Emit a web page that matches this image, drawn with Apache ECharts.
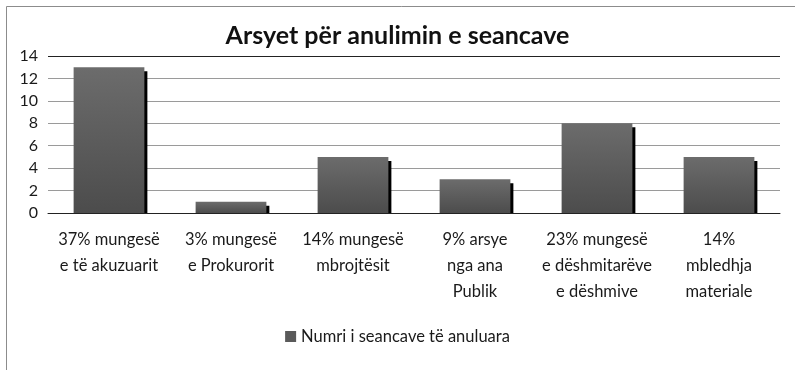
<!DOCTYPE html>
<html>
<head>
<meta charset="utf-8">
<script src="https://cdn.jsdelivr.net/npm/echarts@6/dist/echarts.min.js"></script>
<style>
  html, body { margin: 0; padding: 0; background: #fff; }
  #chart { width: 795px; height: 370px; }
</style>
</head>
<body>
<div id="chart"></div>
<script>
// Reasons for cancelled hearings
const titleText = 'Arsyet për anulimin e seancave';
const seriesName = 'Numri i seancave të anuluara';
const categories = [
  '37% mungesë\ne të akuzuarit',
  '3% mungesë\ne Prokurorit',
  '14% mungesë\nmbrojtësit',
  '9% arsye\nnga ana\nPublik',
  '23% mungesë\ne dëshmitarëve\ne dëshmive',
  '14%\nmbledhja\nmateriale'
];
const values = [13, 1, 5, 3, 8, 5];
const yTicks = { min: 0, max: 14, interval: 2 };

const FONT = 'Lato';

const barFill = new echarts.graphic.LinearGradient(0, 0, 0, 1, [
  { offset: 0, color: '#6c6c6c' },
  { offset: 1, color: '#4c4c4c' }
]);

// Bar with a hard black offset shadow down the right-hand side
function renderBar(params, api) {
  const v = api.value(1);
  const top = api.coord([api.value(0), v]);
  const base = api.coord([api.value(0), 0]);
  const w = api.size([1, 0])[0] * 0.58;
  const x = top[0] - w / 2;
  const h = base[1] - top[1];
  return {
    type: 'group',
    children: [
      { type: 'rect', shape: { x: x + 3, y: top[1] + 4, width: w, height: Math.max(h - 4, 0) }, style: { fill: '#000' } },
      { type: 'rect', shape: { x: x, y: top[1], width: w, height: h }, style: { fill: barFill } }
    ]
  };
}

const chart = echarts.init(document.getElementById('chart'), null, { renderer: 'canvas' });
chart.setOption({
  animation: false,
  backgroundColor: '#fff',
  textStyle: { fontFamily: FONT },
  graphic: [{
    type: 'rect',
    shape: { x: 6.5, y: 6.5, width: 800, height: 400 },
    style: { fill: 'none', stroke: '#8c8c8c', lineWidth: 1 },
    silent: true, z: -1
  }],
  title: {
    text: titleText,
    left: 'center',
    top: 18,
    textStyle: { fontFamily: FONT, fontSize: 25, fontWeight: 'bold', color: '#111' }
  },
  legend: {
    bottom: 20,
    left: 'center',
    itemWidth: 11,
    itemHeight: 11,
    itemGap: 6,
    icon: 'rect',
    textStyle: { fontFamily: FONT, fontSize: 16.5, color: '#1a1a1a' },
    data: [{ name: seriesName, itemStyle: { color: '#5a5a5a' } }]
  },
  grid: { left: 48, right: 15, top: 56, bottom: 157 },
  xAxis: {
    type: 'category',
    data: categories,
    axisTick: { show: false },
    axisLine: { show: true, lineStyle: { color: '#222', width: 1 } },
    axisLabel: {
      interval: 0,
      margin: 14,
      lineHeight: 26,
      fontFamily: FONT,
      fontSize: 16.5,
      color: '#1a1a1a',
      align: 'center'
    }
  },
  yAxis: {
    type: 'value',
    min: yTicks.min,
    max: yTicks.max,
    interval: yTicks.interval,
    axisLine: { show: false },
    axisTick: { show: false },
    axisLabel: { margin: 10, fontFamily: FONT, fontSize: 16, color: '#1a1a1a' },
    splitLine: {
      show: true,
      lineStyle: { color: ['#222', '#9a9a9a', '#9a9a9a', '#9a9a9a', '#9a9a9a', '#9a9a9a', '#9a9a9a', '#222'], width: 1 }
    }
  },
  series: [{
    name: seriesName,
    type: 'custom',
    renderItem: renderBar,
    itemStyle: { color: '#5a5a5a' },
    encode: { x: 0, y: 1 },
    data: values.map((v, i) => [i, v])
  }]
});
</script>
</body>
</html>
